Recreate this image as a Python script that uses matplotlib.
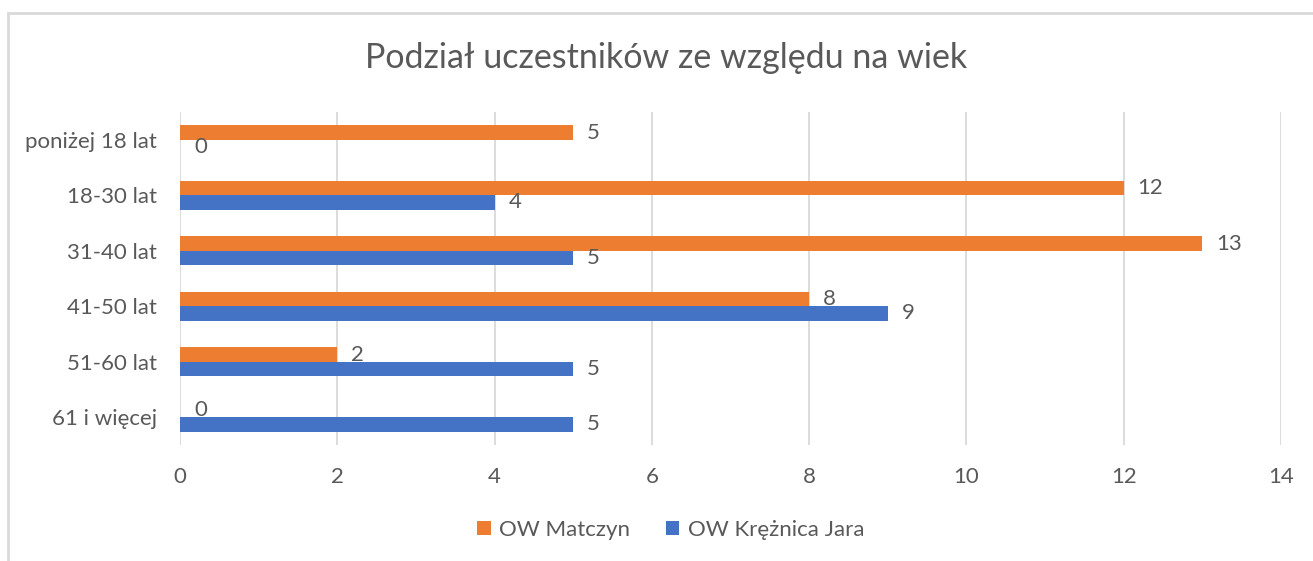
import matplotlib.pyplot as plt
from matplotlib.patches import Rectangle
import numpy as np

categories = ["poniżej 18 lat", "18-30 lat", "31-40 lat", "41-50 lat", "51-60 lat", "61 i więcej"]
matczyn = [5, 12, 13, 8, 2, 0]
kreznica = [0, 4, 5, 9, 5, 5]
series_names = ["OW Matczyn", "OW Krężnica Jara"]

ORANGE = "#ED7D31"
BLUE = "#4472C4"
TEXT = "#595959"

plt.rcParams["font.family"] = ["Lato", "DejaVu Sans"]

W, H = 1313, 561
fig = plt.figure(figsize=(W / 100, H / 100), dpi=100)
ax = fig.add_axes([180 / W, 1 - 445 / H, (1281 - 180) / W, (445 - 112) / H])

# chart border like Excel
fig.patches.append(Rectangle((8 / W, -0.1), 1.2, 1 - 13 / H + 0.1, transform=fig.transFigure,
                             fill=False, edgecolor="#D9D9D9", linewidth=2))

y = np.arange(len(categories))
h = 0.26
ax.barh(y - h / 2, matczyn, height=h, color=ORANGE, label=series_names[0], zorder=3)
ax.barh(y + h / 2, kreznica, height=h, color=BLUE, label=series_names[1], zorder=3)

for yi, v in zip(y - h / 2, matczyn):
    ax.annotate(str(v), (v, yi), xytext=(10, 0), textcoords="offset points",
                ha="left", va="center", fontsize=16, color=TEXT)
for yi, v in zip(y + h / 2, kreznica):
    ax.annotate(str(v), (v, yi), xytext=(10, 0), textcoords="offset points",
                ha="left", va="center", fontsize=16, color=TEXT)

ax.set_xlim(0, 14)
ax.set_xticks(range(0, 15, 2))
ax.set_ylim(len(categories) - 0.5, -0.5)
ax.set_yticks(y)
ax.set_yticklabels(categories)
ax.grid(axis="x", color="#D9D9D9", linewidth=1.3, zorder=0)
for s in ax.spines.values():
    s.set_visible(False)
ax.tick_params(length=0, labelsize=16, labelcolor=TEXT)
ax.tick_params(axis="x", pad=16)
ax.tick_params(axis="y", pad=16.5)

fig.text(666 / W, 1 - 58 / H, "Podział uczestników ze względu na wiek",
         ha="center", va="center", fontsize=24.5, color=TEXT)

fig.legend(loc="center", bbox_to_anchor=(671 / W, 1 - 530 / H), ncol=2, frameon=False,
           fontsize=16, labelcolor=TEXT, handlelength=0.6, handleheight=0.6,
           handletextpad=0.4, columnspacing=1.6)

fig.savefig("out.png", dpi=100)
